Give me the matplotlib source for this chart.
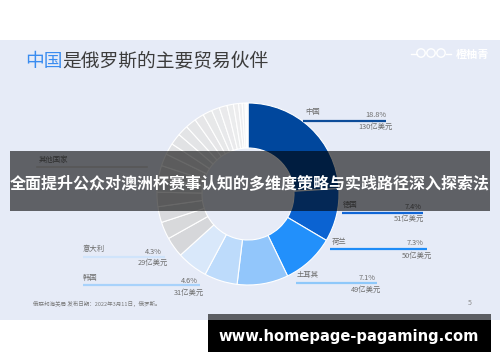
import matplotlib
matplotlib.use('Agg')
import matplotlib.pyplot as plt
from matplotlib.patches import Rectangle, Circle
import numpy as np

plt.rcParams['font.family'] = ['Noto Sans CJK SC', 'DejaVu Sans']

# ---- data ----
countries = ['中国', '德国', '荷兰', '土耳其', '韩国', '意大利']
shares = [18.8, 7.4, 7.3, 7.1, 4.6, 4.3]          # % of Russian trade
amounts = [130, 51, 50, 49, 31, 29]               # 亿美元
other_label = '其他国家'
other_shares = [2.8, 2.4, 2.2, 2.0, 1.9, 1.8, 1.7, 1.6, 1.6, 1.5, 1.5,
                1.3, 1.3, 1.1, 1.1, 0.9, 0.7, 0.5, 0.4, 0.2, 0.2]

title_hl = '中国'
title_rest = '是俄罗斯的主要贸易伙伴'
banner_text = '全面提升公众对澳洲杯赛事认知的多维度策略与实践路径深入探索法'
url_text = 'www.homepage-pagaming.com'
source_text = '俄联邦海关局 发布日期：2022年3月11日，俄罗斯。'
logo_text = '橙柚青'
page_no = '5'

# ---- styles ----
W, H = 500, 362
named_colors = ['#00479d', '#0b63d2', '#2290fb', '#92c6fb', '#bddbfb', '#d9e8fa']
line_colors = ['#0d4c99', '#1066d6', '#1e8cf7', '#8ec8fa', '#a8d2fb', '#d0e4fb']
# label layout (pixel coords): name (x,y), line (x0,x1,y), pct right (x,y), amount right (x,y)
label_pos = [
    dict(name=(305, 112), line=(303, 386, 121), pct=(386, 115), amt=(393, 127)),
    dict(name=(343, 205), line=(342, 423, 213), pct=(422, 207), amt=(424, 219)),
    dict(name=(332, 242), line=(330, 427, 249), pct=(424, 243), amt=(432, 256)),
    dict(name=(297, 275), line=(296, 377, 283), pct=(376, 278), amt=(381, 290)),
    dict(name=(83, 278), line=(83, 200, 285), pct=(198, 281), amt=(204, 293)),
    dict(name=(83, 249), line=(83, 165, 257), pct=(162, 252), amt=(168, 263)),
]

fig = plt.figure(figsize=(5, 3.62), dpi=100)
ax = fig.add_axes([0, 0, 1, 1])


def Y(y):
    return H - y


# slide background
ax.add_patch(Rectangle((0, Y(320)), W, 280, facecolor='#e6ebf7', edgecolor='none', zorder=0))

# donut
n_other = len(other_shares)
gray_colors = [matplotlib.colors.to_hex(c) for c in
               np.linspace(np.array([0.84, 0.845, 0.855]), np.array([0.95, 0.95, 0.955]), n_other)]
vals = shares + other_shares
cols = named_colors + gray_colors
ax.pie(vals, colors=cols, startangle=90, counterclock=False,
       center=(248, Y(194)), radius=91,
       wedgeprops=dict(width=45, edgecolor='white', linewidth=0.8))
ax.set_xlim(0, W)
ax.set_ylim(0, H)
ax.set_aspect('auto')
ax.axis('off')

# title
t1 = ax.text(25, Y(62), title_hl, fontsize=13.5, color='#3a8cf0', va='center', ha='left')
fig.canvas.draw()
bb = t1.get_window_extent()
x_end = ax.transData.inverted().transform((bb.x1, bb.y0))[0]
ax.text(x_end, Y(62), title_rest, fontsize=13.5, color='#3c3c3c', va='center', ha='left')

# logo
for cx in (421, 431, 441):
    ax.add_patch(Circle((cx, Y(53)), 4.2, facecolor='none', edgecolor='white', lw=1.0, zorder=3))
ax.plot([411, 416.5], [Y(54), Y(54)], color='white', lw=1.0)
ax.plot([445.5, 451], [Y(54), Y(54)], color='white', lw=1.0)
ax.text(456, Y(54), logo_text, fontsize=8, color='white', fontweight='bold', va='center', ha='left')

# labels
lab_fs = 5.3
lab_col = '#6e6e6e'
for name, sh, amt, lp, lc in zip(countries, shares, amounts, label_pos, line_colors):
    x0, x1, ly = lp['line']
    ax.plot([x0, x1], [Y(ly), Y(ly)], color=lc, lw=1.6, solid_capstyle='butt', zorder=4)
    ax.text(lp['name'][0], Y(lp['name'][1]), name, fontsize=lab_fs, color=lab_col, va='center', ha='left', zorder=4)
    ax.text(lp['pct'][0], Y(lp['pct'][1]), f'{sh:.1f}%', fontsize=lab_fs, color=lab_col, va='center', ha='right', zorder=4)
    ax.text(lp['amt'][0], Y(lp['amt'][1]), f'{amt}亿美元', fontsize=lab_fs, color=lab_col, va='center', ha='right', zorder=4)

ax.plot([37, 147], [Y(167), Y(167)], color='#d4d4d4', lw=1.2, zorder=4)
ax.text(39, Y(160), other_label, fontsize=lab_fs, color=lab_col, va='center', ha='left', zorder=4)

# source and page number
ax.text(33, Y(304), source_text, fontsize=4.0, color='#7a7a7a', va='center', ha='left')
ax.text(470, Y(303), page_no, fontsize=5, color='#8a8a8a', va='center', ha='center')

# overlay banner
ax.add_patch(Rectangle((10, Y(211)), 480, 60, facecolor='black', alpha=0.59, edgecolor='none', zorder=10))
ax.text(250, Y(184), banner_text, fontsize=11.5, color='white', fontweight='bold',
        va='center', ha='center', zorder=11)

# bottom url box
ax.add_patch(Rectangle((208, Y(320)), 283, 6, facecolor='black', alpha=0.6, edgecolor='none', zorder=10))
ax.add_patch(Rectangle((208, Y(352)), 283, 32, facecolor='black', edgecolor='none', zorder=10))
ax.text(349, Y(337), url_text, fontsize=10.6, color='white', fontweight='bold',
        family='DejaVu Sans', va='center', ha='center', zorder=11)

fig.savefig('out.png', dpi=100, facecolor='white')
